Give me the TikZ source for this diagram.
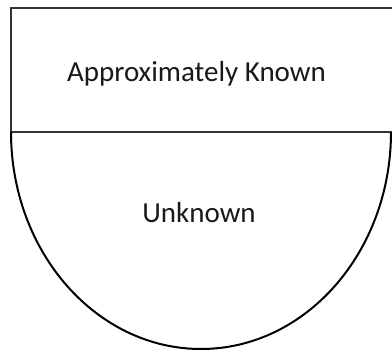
\documentclass[tikz,border=0pt]{standalone}
\usepackage{fontspec}
\setmainfont{Carlito}
\begin{document}
\begin{tikzpicture}[x=1pt,y=1pt,
  outline/.style={draw=black!80,line width=2pt},
  lbl/.style={font=\fontsize{29}{33}\selectfont,text=black!90,inner sep=0pt,anchor=base}]
\useasboundingbox (0,0) rectangle (392,-352);
\begin{scope}
\clip (0,0) rectangle (392,-352);
\draw[outline] (11,-132) -- (11,-8.5) -- (410,-8.5);
\draw[outline] (11,-132) -- (410,-132);
\draw[draw=black,line width=2pt] (11,-132) arc[start angle=180,end angle=360,x radius=190,y radius=217];
\end{scope}
\node[lbl] (known) at (196.5,-82) {Approximately Known};
\node[lbl] (unknown) at (199,-223) {Unknown};
\end{tikzpicture}
\end{document}
